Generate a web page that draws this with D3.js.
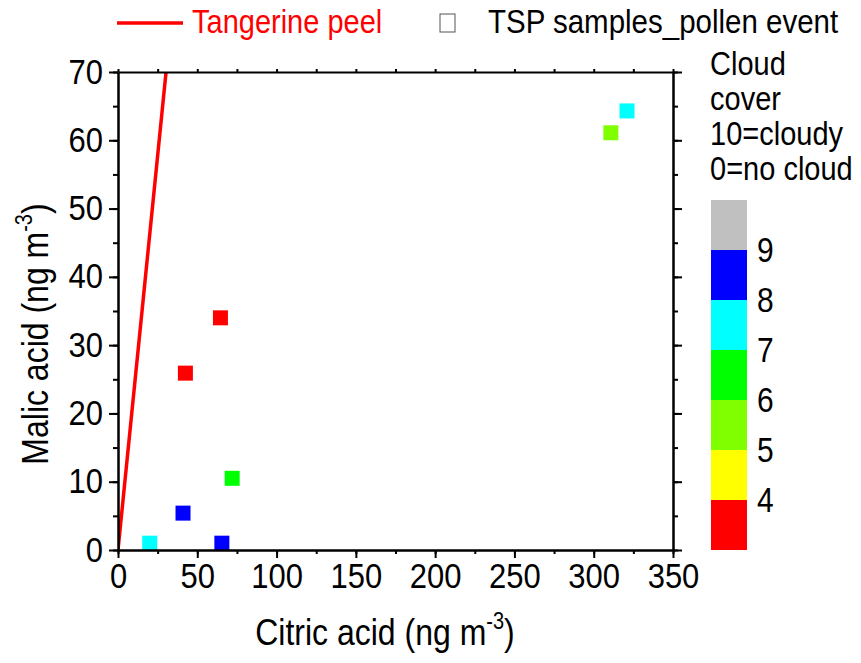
<!DOCTYPE html>
<html><head><meta charset="utf-8">
<script src="https://cdn.jsdelivr.net/npm/d3@7"></script>
<style>body{margin:0;background:#fff}svg{display:block}text{font-family:"Liberation Sans",Arial,sans-serif}</style>
</head><body>
<script>
// ---- data ----
const citric = [20, 65.5, 41, 72, 42.5, 64.6, 321, 310.8];
const malic  = [1.0, 1.0, 5.4, 10.5, 25.9, 34.0, 64.3, 61.1];
const cloud  = [7.5, 8.5, 8.5, 6.5, 3.5, 3.5, 7.5, 5.5];
const peelSlope = 2.31; // tangerine peel malic/citric ratio line
const peelX = [0, 40];
const cloudLevels = [4, 5, 6, 7, 8, 9];
const cloudColors = ["#ff0000", "#ffff00", "#80ff00", "#00ff00", "#00ffff", "#0000ff", "#c0c0c0"];
const xTicks = [0, 50, 100, 150, 200, 250, 300, 350];
const yTicks = [0, 10, 20, 30, 40, 50, 60, 70];
const legendTitle = ["Cloud", "cover", "10=cloudy", "0=no cloud"];

const W = 861, H = 663, SY = 1.15;
const svg = d3.select("body").append("svg").attr("width", W).attr("height", H);
const x = d3.scaleLinear().domain([0, 350]).range([118, 673]);
const y = d3.scaleLinear().domain([0, 70]).range([550, 72]);
const color = d3.scaleThreshold().domain(cloudLevels).range(cloudColors);

function txt(g, px, py, s, size, opts = {}) {
  const t = g.append("text")
    .attr("transform", `translate(${px},${py}) rotate(${opts.rot || 0}) scale(1,${SY})`)
    .attr("font-size", size).attr("fill", opts.fill || "#000")
    .attr("text-anchor", opts.anchor || "start");
  if (opts.dy) t.attr("dy", opts.dy);
  return t.text(s);
}

// clip
svg.append("clipPath").attr("id", "clip").append("rect")
  .attr("x", x(0)).attr("y", y(70)).attr("width", x(350) - x(0)).attr("height", y(0) - y(70));

// peel line
svg.append("path").attr("clip-path", "url(#clip)")
  .datum(peelX.map(v => [v, v * peelSlope]))
  .attr("d", d3.line().x(d => x(d[0])).y(d => y(d[1])))
  .attr("stroke", "#ff0000").attr("stroke-width", 3.5).attr("fill", "none");

// points
const S = 15;
svg.append("g").selectAll("rect").data(citric.map((c, i) => ({c, m: malic[i], k: cloud[i]})))
  .join("rect")
  .attr("x", d => x(d.c) - S / 2).attr("y", d => y(d.m) - S / 2)
  .attr("width", S).attr("height", S).attr("fill", d => color(d.k));

// axes
function styleAxis(g) {
  g.select(".domain").attr("stroke-width", 2).attr("stroke", "#000");
  g.selectAll(".tick line").attr("stroke-width", 2).attr("stroke", "#000");
}
const minorX = d3.range(0, 351, 25), minorY = d3.range(0, 71, 5);
// minor ticks first
svg.append("g").attr("transform", `translate(0,${y(0)})`)
  .call(d3.axisBottom(x).tickValues(minorX).tickSize(4).tickFormat("").tickSizeOuter(0)).call(styleAxis);
svg.append("g").attr("transform", `translate(${x(0)},0)`)
  .call(d3.axisLeft(y).tickValues(minorY).tickSize(5).tickFormat("").tickSizeOuter(0)).call(styleAxis);
svg.append("g").attr("transform", `translate(${x(350)},0)`)
  .call(d3.axisRight(y).tickValues(minorY).tickSize(5).tickFormat("").tickSizeOuter(0)).call(styleAxis);
svg.append("g").attr("transform", `translate(0,${y(70)})`)
  .call(d3.axisTop(x).tickValues(minorX).tickSize(3).tickFormat("").tickSizeOuter(0)).call(styleAxis);
// major
const gx = svg.append("g").attr("transform", `translate(0,${y(0)})`)
  .call(d3.axisBottom(x).tickValues(xTicks).tickSize(8).tickSizeOuter(0).tickFormat(d3.format("d"))).call(styleAxis);
gx.selectAll(".tick text").attr("font-size", 31).attr("y", 0).attr("dy", null)
  .attr("transform", `translate(0,38) scale(1,${SY})`).attr("fill", "#000").attr("font-family", '"Liberation Sans",Arial,sans-serif');
const gy = svg.append("g").attr("transform", `translate(${x(0)},0)`)
  .call(d3.axisLeft(y).tickValues(yTicks).tickSize(9).tickSizeOuter(0).tickFormat(d3.format("d"))).call(styleAxis);
gy.selectAll(".tick text").attr("font-size", 31).attr("x", 0).attr("dy", null).attr("y", 0)
  .attr("transform", `translate(-15,11) scale(1,${SY})`).attr("fill", "#000").attr("font-family", '"Liberation Sans",Arial,sans-serif');
const gr = svg.append("g").attr("transform", `translate(${x(350)},0)`)
  .call(d3.axisRight(y).tickValues(yTicks).tickSize(9).tickSizeOuter(0).tickFormat("")).call(styleAxis);

// axis titles
const xt = txt(svg, 385, 645, "", 32, {anchor: "middle"});
xt.text("Citric acid (ng m");
xt.append("tspan").attr("font-size", 20).attr("dy", -14).text("-3");
xt.append("tspan").attr("dy", 14).text(")");
const yt = txt(svg, 48, 334, "", 32, {anchor: "middle", rot: -90});
yt.text("Malic acid (ng m");
yt.append("tspan").attr("font-size", 20).attr("dy", -14).text("-3");
yt.append("tspan").attr("dy", 14).text(")");

// top legend
svg.append("line").attr("x1", 117).attr("x2", 183).attr("y1", 23).attr("y2", 23)
  .attr("stroke", "#ff0000").attr("stroke-width", 3.5);
txt(svg, 192, 33, "Tangerine peel", 29, {fill: "#ff0000"});
svg.append("rect").attr("x", 440).attr("y", 14).attr("width", 15).attr("height", 18)
  .attr("fill", "none").attr("stroke", "#555").attr("stroke-width", 1);
txt(svg, 488, 33, "TSP samples_pollen event", 29.5);

// colour bar
legendTitle.forEach((s, i) => txt(svg, 710, 75 + i * 35, s, 29));
const cb = d3.scaleLinear().domain([3, 10]).range([550, 200]);
const bands = d3.range(7).map(i => ({lo: 3 + i, hi: 4 + i, c: cloudColors[i]}));
svg.append("g").selectAll("rect").data(bands).join("rect")
  .attr("x", 711).attr("width", 36)
  .attr("y", d => cb(d.hi)).attr("height", d => cb(d.lo) - cb(d.hi))
  .attr("fill", d => d.c);
cloudLevels.forEach(v => txt(svg, 757, cb(v) + 12, String(v), 30));
</script>
</body></html>
